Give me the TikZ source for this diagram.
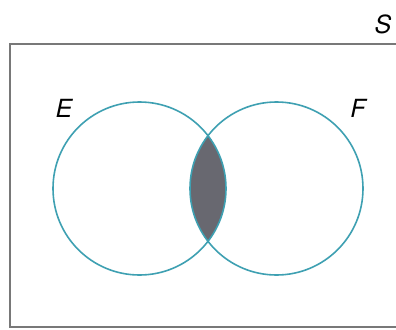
\documentclass[tikz,border=0pt]{standalone}
\usepackage{fontspec}
\setmainfont{TeX Gyre Heros}
\definecolor{ringcol}{RGB}{62,160,178}
\definecolor{boxcol}{RGB}{120,120,120}
\definecolor{lenscol}{RGB}{104,104,112}
\tikzset{
  ring/.style={draw=ringcol, line width=1.6bp},
  frame/.style={draw=boxcol, line width=2.2bp},
  setlabel/.style={inner sep=0pt, font=\fontsize{25bp}{30bp}\selectfont\itshape}
}
\begin{document}
\begin{tikzpicture}[x=1bp,y=-1bp]
\useasboundingbox (0,0) rectangle (396,330);
\fill[white] (0,0) rectangle (396,330);
\coordinate (cE) at (139.5,188.5);
\coordinate (cF) at (276.5,188.5);
\draw[frame] (397,44) -- (10,44) -- (10,327) -- (397,327);
\begin{scope}
  \clip (cE) circle[radius=86.5];
  \fill[lenscol] (cF) circle[radius=86.5];
\end{scope}
\draw[ring] (cE) circle[radius=86.5];
\draw[ring] (cF) circle[radius=86.5];
\node[setlabel] (lE) at (64,108) {E};
\node[setlabel] (lF) at (358,108) {F};
\node[setlabel] (lS) at (383,24) {S};
\end{tikzpicture}
\end{document}
